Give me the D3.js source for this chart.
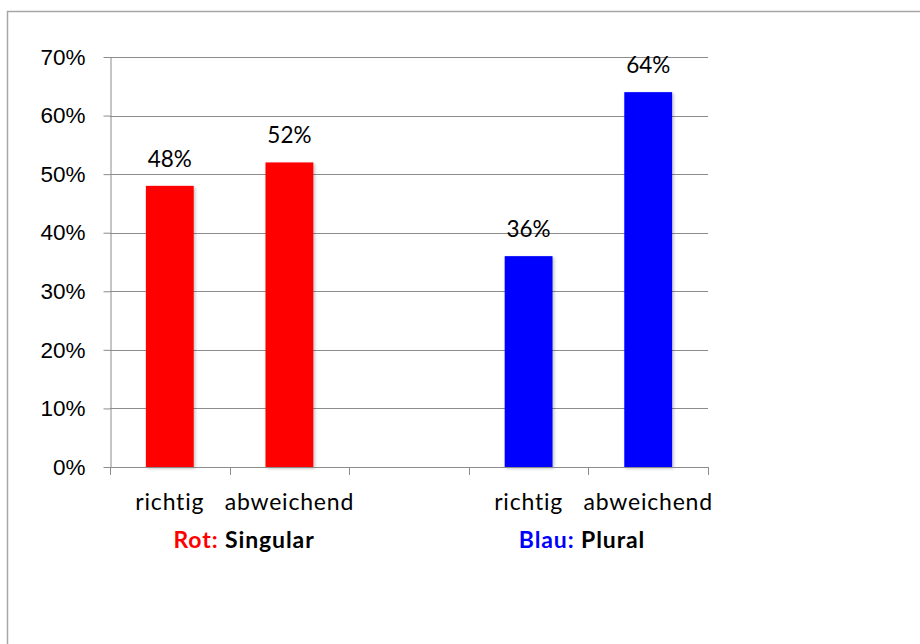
<!DOCTYPE html>
<html>
<head>
<meta charset="utf-8">
<script src="https://cdn.jsdelivr.net/npm/d3@7"></script>
<style>
  body { margin: 0; background: #fff; }
  svg { display: block; font-family: Lato, "Open Sans", sans-serif; }
  .axis path, .axis line { stroke: #8c8c8c; }
  .axis text { font-size: 22.5px; fill: #000; }
  .grid line { stroke: #8c8c8c; }
  .barlabel { font-size: 22.5px; fill: #000; }
  .cat { font-size: 23px; letter-spacing: 0.8px; fill: #000; }
  .legend { font-size: 23px; font-weight: bold; letter-spacing: 0.9px; }
</style>
</head>
<body>
<div id="chart"></div>
<script>
//Chart size
const width = 920;
const height = 644;

//Data
const categories = ["richtig", "abweichend", "", "richtig", "abweichend"];
const values = [48, 52, null, 36, 64];
const barColors = ["#ff0000", "#ff0000", null, "#0000ff", "#0000ff"];
const yTicks = [0, 10, 20, 30, 40, 50, 60, 70];
const legendItems = [
  {key: "Rot:", color: "#ff0000", name: "Singular", center: 244},
  {key: "Blau:", color: "#0000ff", name: "Plural", center: 582}
];

//Plot area
const plotLeft = 110, plotRight = 708, plotTop = 57, plotBottom = 467;

const svg = d3.select("#chart")
  .append("svg")
  .attr("width", width)
  .attr("height", height);

//Outer border (chart area frame, cropped on right and bottom)
svg.append("rect")
  .attr("x", 7.5)
  .attr("y", 11.5)
  .attr("width", 1000)
  .attr("height", 1000)
  .attr("fill", "none")
  .attr("stroke", "#a6a6a6")
  .attr("stroke-width", 1.5);

//Scales
const xScale = d3.scaleBand()
  .domain(d3.range(categories.length))
  .range([plotLeft, plotRight])
  .paddingInner(0.6)
  .paddingOuter(0.3);

const yScale = d3.scaleLinear()
  .domain([0, 70])
  .range([plotBottom, plotTop]);

//Gridlines
svg.append("g")
  .attr("class", "grid")
  .selectAll("line")
  .data(yTicks.slice(1))
  .enter()
  .append("line")
  .attr("x1", plotLeft)
  .attr("x2", plotRight)
  .attr("y1", d => Math.round(yScale(d)) + 0.5)
  .attr("y2", d => Math.round(yScale(d)) + 0.5);

//Bars with soft shadow
const defs = svg.append("defs");
const shadow = defs.append("filter").attr("id", "shadow")
  .attr("x", "-20%").attr("y", "-20%").attr("width", "150%").attr("height", "150%");
shadow.append("feDropShadow")
  .attr("dx", 1.5).attr("dy", 1.5).attr("stdDeviation", 1.5)
  .attr("flood-color", "#000").attr("flood-opacity", 0.25);

const barData = values.map((v, i) => ({i: i, value: v, color: barColors[i]}))
  .filter(d => d.value !== null);

svg.append("g")
  .selectAll("rect")
  .data(barData)
  .enter()
  .append("rect")
  .attr("x", d => xScale(d.i))
  .attr("y", d => yScale(d.value))
  .attr("width", xScale.bandwidth())
  .attr("height", d => plotBottom - yScale(d.value))
  .attr("fill", d => d.color)
  .attr("filter", "url(#shadow)");

//Bar value labels
svg.append("g")
  .selectAll("text")
  .data(barData)
  .enter()
  .append("text")
  .attr("class", "barlabel")
  .attr("x", d => xScale(d.i) + xScale.bandwidth() / 2)
  .attr("y", d => yScale(d.value) - 19)
  .attr("text-anchor", "middle")
  .text(d => d.value + "%");

//Y axis
svg.append("g")
  .attr("class", "axis")
  .attr("transform", "translate(" + (plotLeft + 0.5) + ",0)")
  .call(d3.axisLeft(yScale).tickValues(yTicks).tickSize(7).tickSizeOuter(0).tickPadding(18)
    .tickFormat(d => d + "%"));

//X axis line and ticks between categories
const xAxis = svg.append("g").attr("class", "axis");
xAxis.append("line")
  .attr("x1", plotLeft)
  .attr("x2", plotRight)
  .attr("y1", plotBottom + 0.5)
  .attr("y2", plotBottom + 0.5);
xAxis.selectAll(".xtick")
  .data(d3.range(categories.length + 1))
  .enter()
  .append("line")
  .attr("class", "xtick")
  .attr("x1", i => Math.round(plotLeft + i * xScale.step()) + 0.5)
  .attr("x2", i => Math.round(plotLeft + i * xScale.step()) + 0.5)
  .attr("y1", plotBottom)
  .attr("y2", plotBottom + 8);

//Category labels
svg.append("g")
  .selectAll("text")
  .data(categories)
  .enter()
  .append("text")
  .attr("class", "cat")
  .attr("x", (d, i) => xScale(i) + xScale.bandwidth() / 2)
  .attr("y", 510)
  .attr("text-anchor", "middle")
  .text(d => d);

//Group titles under the axis
legendItems.forEach(item => {
  const t = svg.append("text")
    .attr("class", "legend")
    .attr("x", item.center)
    .attr("y", 548)
    .attr("text-anchor", "middle");
  t.append("tspan").attr("fill", item.color).text(item.key + " ");
  t.append("tspan").attr("fill", "#000").text(item.name);
});
</script>
</body>
</html>
